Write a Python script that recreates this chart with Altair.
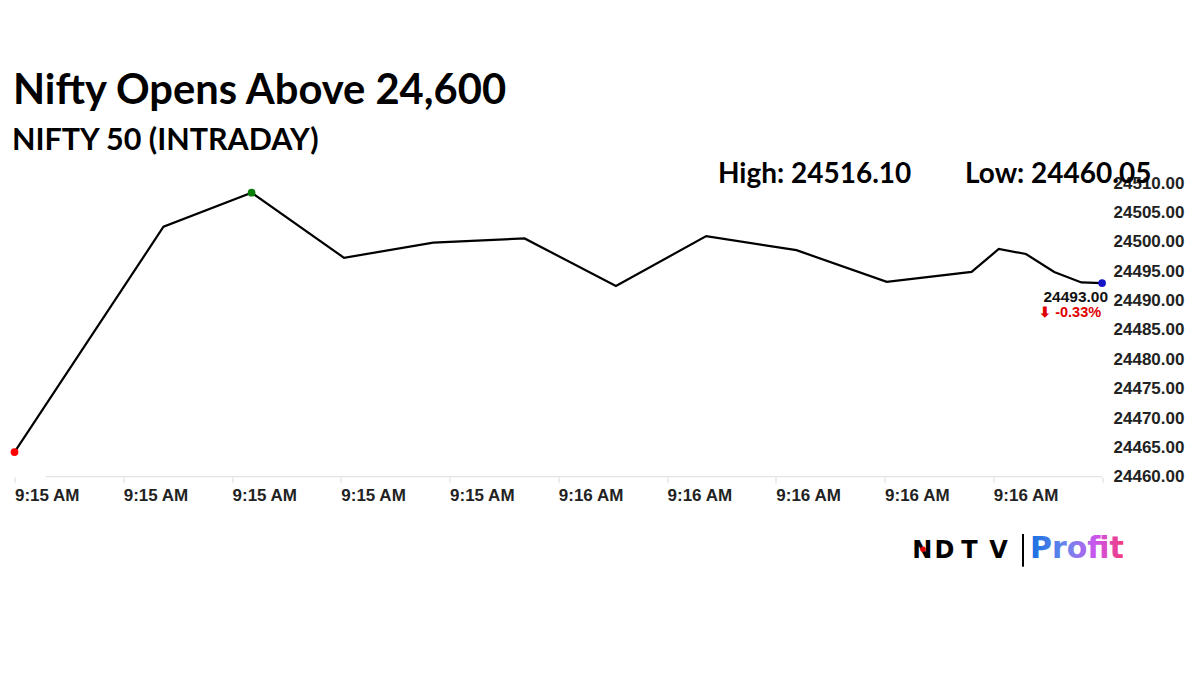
import altair as alt
import pandas as pd

# ---------------- data ----------------
title_text = "Nifty Opens Above 24,600"
subtitle_text = "NIFTY 50 (INTRADAY)"
high_text = "High: 24516.10"
low_text = "Low: 24460.05"

# seconds after 9:15:00 AM
seconds_after_0915 = [10, 23.7, 31.8, 40.3, 48.5, 56.9, 65.3, 73.6, 81.9, 90.2,
                      98.0, 100.5, 103.0, 105.6, 108.1, 110.0]
prices = [24464.2, 24502.6, 24508.4, 24497.3, 24499.9, 24500.6, 24492.5, 24501.0,
          24498.6, 24493.2, 24494.9, 24498.8, 24497.95, 24494.9, 24493.1, 24493.0]
change_pct = [-0.33]

x_tick_values = [10, 20, 30, 40, 50, 60, 70, 80, 90, 100, 110]
y_tick_values = [24460, 24465, 24470, 24475, 24480, 24485, 24490, 24495, 24500, 24505, 24510]

df = pd.DataFrame({"sec": seconds_after_0915, "price": prices})

i_open = 0
i_high = max(range(len(prices)), key=lambda i: prices[i])
i_last = len(prices) - 1
markers = pd.DataFrame({
    "sec": [seconds_after_0915[i_open], seconds_after_0915[i_high], seconds_after_0915[i_last]],
    "price": [prices[i_open], prices[i_high], prices[i_last]],
    "role": ["open", "high", "last"],
})
last_df = pd.DataFrame({
    "sec": [seconds_after_0915[i_last]],
    "price": [prices[i_last]],
    "val": [f"{prices[i_last]:.2f}"],
    "chg": [f"\u2b07 {change_pct[0]:.2f}%"],
})

W = 1087.6
H = 293.4

x_enc = alt.X("sec:Q",
              scale=alt.Scale(domain=[10, 110], nice=False, zero=False),
              axis=alt.Axis(values=x_tick_values, title=None, domain=False, grid=False,
                            labelExpr="datum.value >= 110 ? '' : '9:' + (15 + floor(datum.value / 60)) + ' AM'",
                            labelAlign="left", labelFlush=False, labelOverlap=False,
                            labelFont="Liberation Sans", labelFontWeight="bold",
                            labelFontSize=17, labelColor="#222", labelPadding=5,
                            tickSize=6, tickColor="#dddddd", tickWidth=1))
y_enc = alt.Y("price:Q",
              scale=alt.Scale(domain=[24460, 24510], nice=False, zero=False),
              axis=alt.Axis(values=y_tick_values, orient="right", title=None, domain=False,
                            grid=False, ticks=False, format=".2f", labelOverlap=False,
                            labelFlush=False, labelAlign="left", labelBaseline="middle",
                            labelFont="Liberation Sans", labelFontWeight="bold",
                            labelFontSize=17, labelColor="#222", labelPadding=11))

line = alt.Chart(df).mark_line(color="#000000", strokeWidth=2.2).encode(x=x_enc, y=y_enc)

points = alt.Chart(markers).mark_point(filled=True, size=60, opacity=1).encode(
    x=x_enc, y=y_enc,
    color=alt.Color("role:N", legend=None,
                    scale=alt.Scale(domain=["open", "high", "last"],
                                    range=["#ff0000", "#0a7d0a", "#1414c8"])))

val_text = alt.Chart(last_df).mark_text(
    align="right", baseline="alphabetic", dx=6, dy=19,
    font="Liberation Sans", fontWeight="bold", fontSize=15.5, color="#111111"
).encode(x=x_enc, y=y_enc, text="val:N")

chg_text = alt.Chart(last_df).mark_text(
    align="right", baseline="alphabetic", dx=-1, dy=34,
    font="Liberation Sans", fontWeight="bold", fontSize=14.5, color="#e00000"
).encode(x=x_enc, y=y_enc, text="chg:N")

axis_line = alt.Chart(alt.Data(values=[{}])).mark_rule(color="#dddddd", strokeWidth=1).encode(
    x=alt.value(31.5), x2=alt.value(W), y=alt.value(H))


def header(txt, x, y, size, font="Lato", color="#000000", align="left"):
    return alt.Chart(alt.Data(values=[{"t": txt}])).mark_text(
        align=align, baseline="alphabetic", font=font, fontWeight="bold",
        fontSize=size, color=color
    ).encode(x=alt.value(x), y=alt.value(y), text="t:N")


title = header(title_text, -1.5, -79.3, 41.7)
subtitle = header(subtitle_text, -2.5, -33.3, 30.5)
high = header(high_text, 703.5, -0.3, 28)
low = header(low_text, 950.5, -0.3, 28)

# logo
logo_letters = [
    header("N", 907.7, 374.5, 24, font="DejaVu Sans", align="center"),
    header("D", 930.0, 374.5, 24, font="DejaVu Sans", align="center"),
    header("T", 955.0, 374.5, 24, font="DejaVu Sans", align="center"),
    header("V", 984.0, 374.5, 24, font="DejaVu Sans", align="center"),
]
logo_dot = alt.Chart(alt.Data(values=[{}])).mark_point(filled=True, size=30, color="#e00000", opacity=1).encode(
    x=alt.value(908.5), y=alt.value(366.0))
logo_bar = alt.Chart(alt.Data(values=[{}])).mark_rule(color="#000000", strokeWidth=2).encode(
    x=alt.value(1008.5), y=alt.value(350.7), y2=alt.value(383.4))
profit = alt.Chart(alt.Data(values=[{"t": "Profit"}])).mark_text(
    align="left", baseline="alphabetic", font="DejaVu Sans", fontWeight="bold", fontSize=30,
    color=alt.Gradient(gradient="linear", x1=0, x2=1, y1=0, y2=0,
                       stops=[alt.GradientStop(color="#1670e0", offset=0),
                              alt.GradientStop(color="#6f86ee", offset=0.4),
                              alt.GradientStop(color="#cc55ec", offset=0.7),
                              alt.GradientStop(color="#f23a78", offset=1)])
).encode(x=alt.value(1015.5), y=alt.value(374.5), text="t:N")

chart = alt.layer(
    axis_line, line, points, val_text, chg_text,
    title, subtitle, high, low, *logo_letters, logo_dot, logo_bar, profit
).properties(
    width=W, height=H,
    padding={"left": 6.5, "top": 175.3, "right": 89, "bottom": 182},
    autosize=alt.AutoSizeParams(type="none"),
    background="white",
).configure_view(stroke=None).configure_axis(labelOverlap=False)

chart.save("out.html", embed_options={"renderer": "svg", "actions": False})
